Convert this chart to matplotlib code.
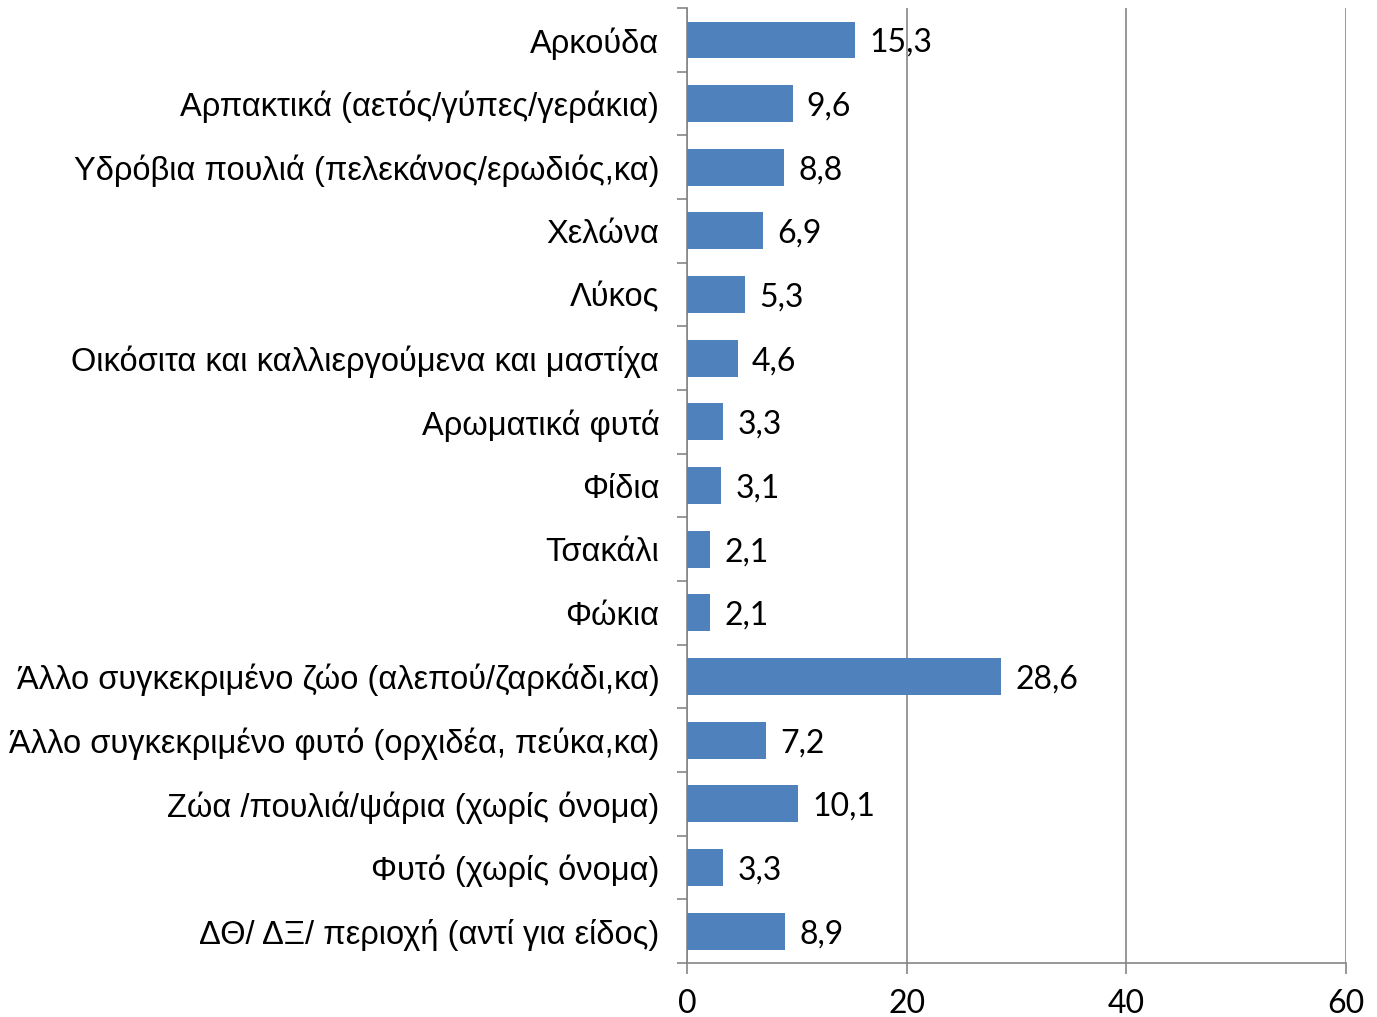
import numpy as np
from matplotlib import pyplot as plt

categories = [
    "Αρκούδα",
    "Αρπακτικά (αετός/γύπες/γεράκια)",
    "Υδρόβια πουλιά (πελεκάνος/ερωδιός,κα)",
    "Χελώνα",
    "Λύκος",
    "Οικόσιτα και καλλιεργούμενα και μαστίχα",
    "Αρωματικά φυτά",
    "Φίδια",
    "Τσακάλι",
    "Φώκια",
    "Άλλο συγκεκριμένο ζώο (αλεπού/ζαρκάδι,κα)",
    "Άλλο συγκεκριμένο φυτό (ορχιδέα, πεύκα,κα)",
    "Ζώα /πουλιά/ψάρια (χωρίς όνομα)",
    "Φυτό (χωρίς όνομα)",
    "ΔΘ/ ΔΞ/ περιοχή (αντί για είδος)",
]
values = [15.3, 9.6, 8.8, 6.9, 5.3, 4.6, 3.3, 3.1, 2.1, 2.1, 28.6, 7.2, 10.1, 3.3, 8.9]
x_ticks = [0, 20, 40, 60]

bar_color = "#4F81BD"
axis_grey = "#868686"
label_font = dict(family=["Liberation Sans", "DejaVu Sans"], fontsize=23.5)
value_font = dict(family=["Lato", "DejaVu Sans"], fontsize=23)

fig = plt.figure(figsize=(13.77, 10.17), dpi=100)
ax = fig.add_axes([0.499, 0.0531, 0.4785, 0.9389])

y = np.arange(len(categories))
ax.barh(y, values, height=0.58, color=bar_color, zorder=3)

for yi, v in zip(y, values):
    ax.text(v + 1.3, yi, f"{v:.1f}".replace(".", ","), va="center_baseline", ha="left",
            color="black", **value_font)

ax.set_xlim(0, 60)
ax.set_ylim(len(categories) - 0.5, -0.5)
ax.set_yticks(y)
ax.set_yticklabels(categories, **label_font)
ax.set_yticks(np.arange(len(categories) + 1) - 0.5, minor=True)
ax.tick_params(axis="y", which="major", length=0, pad=20)
ax.tick_params(axis="y", which="minor", length=7, color=axis_grey, width=1.2)

ax.set_xticks(x_ticks)
ax.set_xticklabels([str(t) for t in x_ticks], **value_font)
ax.tick_params(axis="x", length=8, color=axis_grey, width=1.2, pad=11)

ax.grid(axis="x", color=axis_grey, linewidth=1.2, zorder=0)
for side in ["top", "right"]:
    ax.spines[side].set_visible(False)
for side in ["left", "bottom"]:
    ax.spines[side].set_color(axis_grey)
    ax.spines[side].set_linewidth(1.2)

fig.savefig("out.png", dpi=100)
